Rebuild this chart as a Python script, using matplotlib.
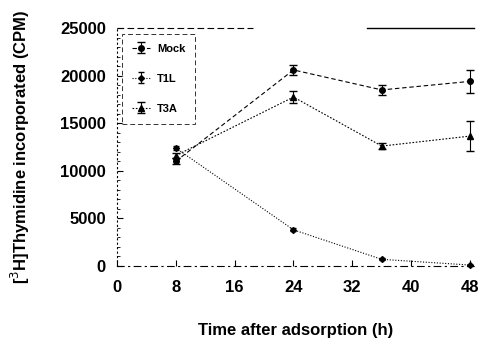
import numpy as np
import matplotlib.pyplot as plt
from matplotlib.ticker import MultipleLocator

# time points (h)
hours = [8, 24, 36, 48]

mock = [11000, 20600, 18500, 19400]
mock_err = [300, 500, 500, 1200]

t1l = [12400, 3800, 700, 100]
t1l_err = [200, 150, 100, 50]

t3a = [11600, 17750, 12600, 13650]
t3a_err = [300, 600, 300, 1600]

x_ticks = [0, 8, 16, 24, 32, 40, 48]
y_ticks = [0, 5000, 10000, 15000, 20000, 25000]

plt.rcParams['font.family'] = ['Liberation Sans', 'DejaVu Sans']

fig = plt.figure(figsize=(4.81, 3.38), dpi=100)
ax = fig.add_axes([0.243, 0.213, 0.742, 0.704])

ax.errorbar(hours, mock, yerr=mock_err, color='black', marker='o', markersize=4,
            linestyle=(0, (4, 2.5)), linewidth=0.8, capsize=3, elinewidth=0.8,
            label='Mock', clip_on=False)
ax.errorbar(hours, t1l, yerr=t1l_err, color='black', marker='D', markersize=3,
            linestyle=(0, (1, 1.5)), linewidth=0.8, capsize=2, elinewidth=0.8,
            label='T1L', clip_on=False)
ax.errorbar(hours, t3a, yerr=t3a_err, color='black', marker='^', markersize=5,
            linestyle=(0, (1.5, 1.5)), linewidth=0.8, capsize=3, elinewidth=0.8,
            label='T3A', clip_on=False)

ax.set_xlim(0, 48.5)
ax.set_ylim(0, 25000)
ax.set_xticks(x_ticks)
ax.set_yticks(y_ticks)
ax.yaxis.set_minor_locator(MultipleLocator(1000))
ax.tick_params(axis='both', which='major', direction='in', length=4, width=0.8,
               labelsize=12)
ax.tick_params(axis='x', which='major', pad=10)
ax.tick_params(axis='y', which='major', pad=8)
ax.tick_params(axis='y', which='minor', direction='in', length=2, width=0.6)
for lab in ax.get_xticklabels() + ax.get_yticklabels():
    lab.set_fontweight('bold')

ax.spines['right'].set_visible(False)
ax.spines['top'].set_visible(False)
ax.spines['left'].set_linestyle((0, (1, 3)))
ax.spines['bottom'].set_linestyle((0, (6, 4, 1, 4)))
ax.spines['left'].set_linewidth(0.8)
ax.spines['bottom'].set_linewidth(0.8)

# broken top frame as in the scan
ax.plot([0, 0.38], [1, 1], transform=ax.transAxes, color='black',
        linewidth=0.8, linestyle=(0, (6, 3)), clip_on=False)
ax.plot([0.70, 1.0], [1, 1], transform=ax.transAxes, color='black',
        linewidth=1.0, clip_on=False)

ax.set_xlabel('Time after adsorption (h)', fontsize=12, fontweight='bold', labelpad=20)
ax.set_ylabel('[$^3$H]Thymidine incorporated (CPM)', fontsize=12, fontweight='bold',
              labelpad=20)

leg = ax.legend(loc='upper left', bbox_to_anchor=(0.0, 1.0), fontsize=8,
                labelspacing=1.8, handlelength=1.6, handletextpad=0.6,
                borderpad=0.9, fancybox=False, edgecolor='black')
leg.get_frame().set_linestyle((0, (5, 3)))
leg.get_frame().set_linewidth(0.7)
for txt in leg.get_texts():
    txt.set_fontweight('bold')

fig.savefig('out.png', dpi=100)
plt.close(fig)
